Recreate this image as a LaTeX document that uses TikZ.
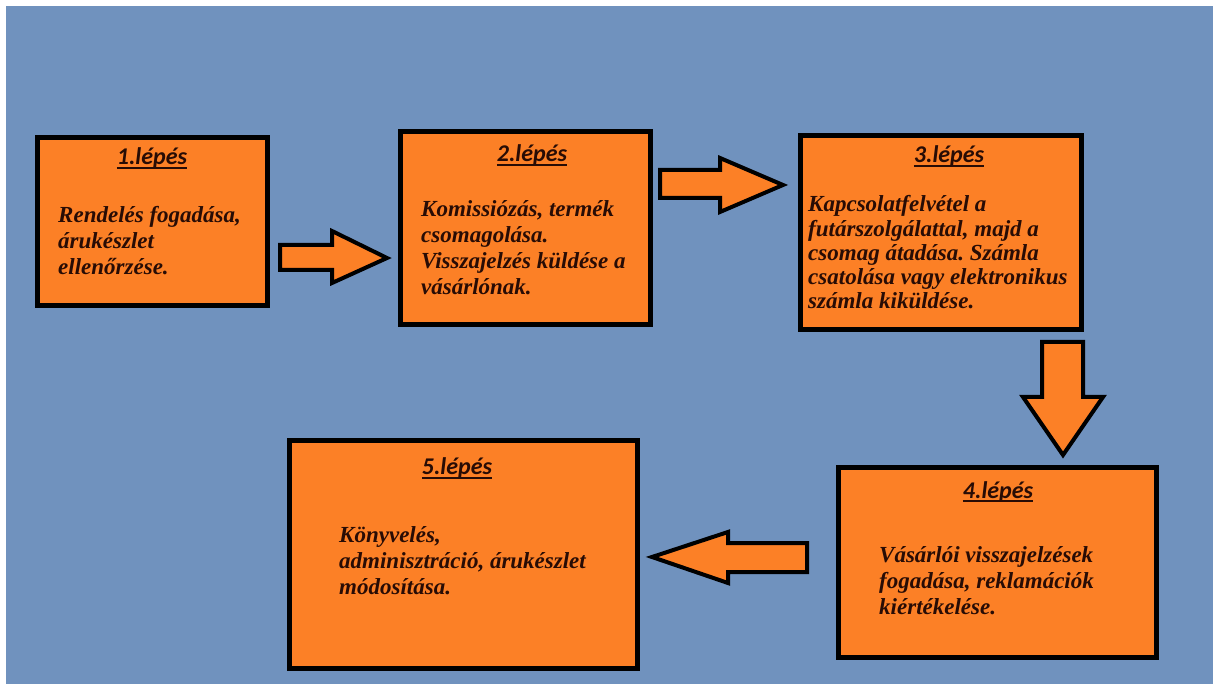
\documentclass[tikz,border=0pt]{standalone}
\usepackage{fontspec}
\setmainfont{Liberation Serif}
\newfontfamily\titlefont{Carlito}
\definecolor{bgblue}{RGB}{112,146,190}
\definecolor{boxorange}{RGB}{252,128,38}
\definecolor{inkdark}{RGB}{40,12,5}
\tikzset{
  stepbox/.style={draw=black, fill=boxorange, line width=5pt, inner sep=0pt},
  steptitle/.style={anchor=base, inner sep=0pt, text=inkdark,
    font=\titlefont\fontsize{24}{28}\selectfont\bfseries\itshape},
  stepbody/.style={anchor=base west, inner sep=0pt, text=inkdark,
    font=\frenchspacing\fontsize{23}{26}\selectfont\bfseries\itshape},
  blockarrow/.style={draw=black, fill=boxorange, line width=4pt, line join=miter}
}
\newcommand{\lines}[1]{\begin{tabular}[t]{@{}l@{}}#1\end{tabular}}
\newcommand{\thickul}[1]{\setbox0\hbox{#1}\rlap{\rule[-4pt]{\wd0}{1.6pt}}\box0}
\begin{document}
\begin{tikzpicture}[x=1pt,y=-1pt]
\useasboundingbox (0,0) rectangle (1213,684);
\fill[white] (0,0) rectangle (1213,684);
\fill[bgblue] (6,6) rectangle (1213,684);

% boxes
\node[stepbox, minimum width=230pt, minimum height=168pt] (b1) at (152.5,221.5) {};
\node[stepbox, minimum width=250pt, minimum height=193pt] (b2) at (525.5,228) {};
\node[stepbox, minimum width=281pt, minimum height=194pt] (b3) at (941,232.5) {};
\node[stepbox, minimum width=318pt, minimum height=190pt] (b4) at (997.5,562.5) {};
\node[stepbox, minimum width=348pt, minimum height=228pt] (b5) at (463.5,554.5) {};

% titles
\node[steptitle] (t1) at (152,165) {\thickul{1.lépés}};
\node[steptitle] (t2) at (532,162) {\thickul{2.lépés}};
\node[steptitle] (t3) at (949,163) {\thickul{3.lépés}};
\node[steptitle] (t4) at (998,498) {\thickul{4.lépés}};
\node[steptitle] (t5) at (457,475) {\thickul{5.lépés}};

% bodies
\node[stepbody] (x1) at (58,223) {\lines{Rendelés fogadása,\\árukészlet\\ellenőrzése.}};
\node[stepbody] (x2) at (421,217) {\lines{Komissiózás, termék\\csomagolása.\\Visszajelzés küldése a\\vásárlónak.}};
\node[stepbody, font=\frenchspacing\fontsize{23}{24.2}\selectfont\bfseries\itshape] (x3) at (808,212) {\lines{Kapcsolatfelvétel a\\futárszolgálattal, majd a\\csomag átadása. Számla\\csatolása vagy elektronikus\\számla kiküldése.}};
\node[stepbody] (x4) at (879,562) {\lines{Vásárlói visszajelzések\\fogadása, reklamációk\\kiértékelése.}};
\node[stepbody] (x5) at (339,542) {\lines{Könyvelés,\\adminisztráció, árukészlet\\módosítása.}};

% block arrows
\draw[blockarrow] (280,245) -- (332,245) -- (332,231) -- (387,258) -- (332,283) -- (332,270) -- (280,270) -- cycle;
\draw[blockarrow] (660,170) -- (720,170) -- (720,158) -- (783,185) -- (720,212) -- (720,198) -- (660,198) -- cycle;
\draw[blockarrow] (1042,342) -- (1083,342) -- (1083,397) -- (1103,397) -- (1063,455) -- (1023,397) -- (1042,397) -- cycle;
\draw[blockarrow] (807,543) -- (728,543) -- (728,532) -- (652,557) -- (728,583) -- (728,572) -- (807,572) -- cycle;
\end{tikzpicture}
\end{document}
